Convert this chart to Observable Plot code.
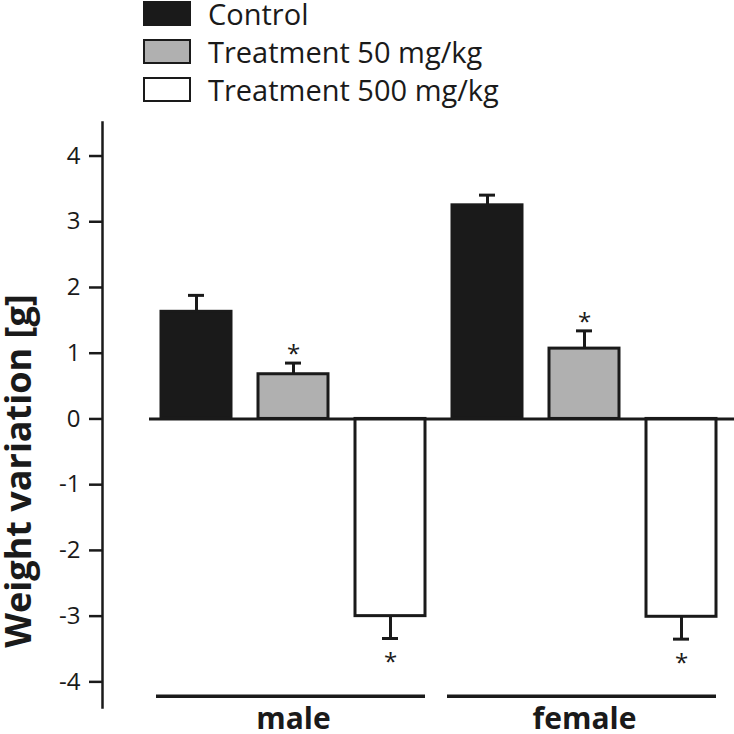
<!DOCTYPE html>
<html>
<head>
<meta charset="utf-8">
<script src="https://cdn.jsdelivr.net/npm/d3@7"></script>
<script src="https://cdn.jsdelivr.net/npm/@observablehq/plot@0.6"></script>
<style>
  html, body { margin: 0; padding: 0; background: #fff; }
  body { width: 734px; height: 734px; overflow: hidden; font-family: "Open Sans", sans-serif; color: #1a1a1a; }
  #legend { position: relative; height: 110px; }
  .item { position: absolute; left: 143px; height: 25px; display: flex; align-items: center; }
  .sw { box-sizing: border-box; width: 48px; height: 25px; border: 2.5px solid #1a1a1a; }
  .lab { margin-left: 17px; font-size: 29px; line-height: 25px; white-space: nowrap; }
  svg { display: block; }
</style>
</head>
<body>
<div id="legend"></div>
<div id="chart"></div>
<script>
// ---- data ----
const groups = ["male", "female"];
const treatments = ["Control", "Treatment 50 mg/kg", "Treatment 500 mg/kg"];
const fills = ["#1a1a1a", "#b0b0b0", "#ffffff"];
const maleMeans = [1.63, 0.68, -3.0];
const maleErrors = [0.25, 0.17, 0.34];
const femaleMeans = [3.25, 1.07, -3.01];
const femaleErrors = [0.155, 0.27, 0.34];
const significant = [false, true, true];
const yTicks = [-4, -3, -2, -1, 0, 1, 2, 3, 4];
const yLabel = "Weight variation [g]";

// ---- table ----
const meansBy = {male: maleMeans, female: femaleMeans};
const errorsBy = {male: maleErrors, female: femaleErrors};
const rows = [];
groups.forEach(g => treatments.forEach((t, i) => {
  const m = meansBy[g][i], e = errorsBy[g][i];
  rows.push({group: g, treatment: t, key: g + "|" + t, mean: m, end: m + Math.sign(m) * e, sig: significant[i]});
}));
const keys = rows.map(r => r.key);
const groupRows = groups.map(g => ({group: g, a: g + "|" + treatments[0], b: g + "|" + treatments[treatments.length - 1]}));

// ---- legend ----
const legend = document.getElementById("legend");
treatments.forEach((t, i) => {
  const it = document.createElement("div");
  it.className = "item";
  it.style.top = (1 + i * 38) + "px";
  const sw = document.createElement("div");
  sw.className = "sw";
  sw.style.background = fills[i];
  const lab = document.createElement("span");
  lab.className = "lab";
  lab.textContent = t;
  it.append(sw, lab);
  legend.append(it);
});

// ---- chart ----
const ink = "#1a1a1a";
const chart = Plot.plot({
  width: 734,
  height: 624,
  marginTop: 12,
  marginBottom: 27,
  marginLeft: 102,
  marginRight: 18,
  style: {fontFamily: "'Open Sans', sans-serif", color: ink, background: "white", overflow: "visible"},
  x: {type: "band", domain: keys, paddingInner: 0.277, paddingOuter: 0.287, align: 1},
  y: {domain: [-4.39, 4.51]},
  color: {domain: treatments, range: fills},
  marks: [
    Plot.frame({anchor: "left", stroke: ink, strokeWidth: 2.5}),
    Plot.axisY({ticks: yTicks, tickSize: 13, tickPadding: 9, tickFormat: d => String(d), fontSize: 24, strokeWidth: 2.5, stroke: ink, label: null}),
    Plot.axisX({ticks: groups.map(g => g + "|" + treatments[1]), tickFormat: k => k.split("|")[0], tickSize: 0, tickPadding: 0, fontSize: 30, fontWeight: "bold", label: null}),
    Plot.text([yLabel], {frameAnchor: "left", textAnchor: "middle", lineAnchor: "middle", rotate: -90, dx: -83, dy: 56, fontSize: 36, fontWeight: "bold", fill: ink}),
    Plot.ruleY(groupRows, {y: () => -4.22, x1: "a", x2: "b", insetLeft: -5, stroke: ink, strokeWidth: 3.5}),
    Plot.ruleX(rows, {x: "key", y1: "mean", y2: "end", stroke: ink, strokeWidth: 3}),
    Plot.tickY(rows, {x: "key", y: "end", stroke: ink, strokeWidth: 3, insetLeft: 27, insetRight: 27}),
    Plot.barY(rows, {x: "key", y: "mean", fill: "treatment", stroke: ink, strokeWidth: 3}),
    Plot.ruleY([0], {x1: () => keys[0], x2: () => keys[keys.length - 1], insetLeft: -12, insetRight: -18, stroke: ink, strokeWidth: 3}),
    Plot.text(rows.filter(r => r.sig && r.mean > 0), {x: "key", y: "end", text: () => "*", fontSize: 24, fill: ink, lineAnchor: "middle", dy: -9}),
    Plot.text(rows.filter(r => r.sig && r.mean < 0), {x: "key", y: "end", text: () => "*", fontSize: 24, fill: ink, lineAnchor: "middle", dy: 24}),
  ]
});
document.getElementById("chart").append(chart);
</script>
</body>
</html>
